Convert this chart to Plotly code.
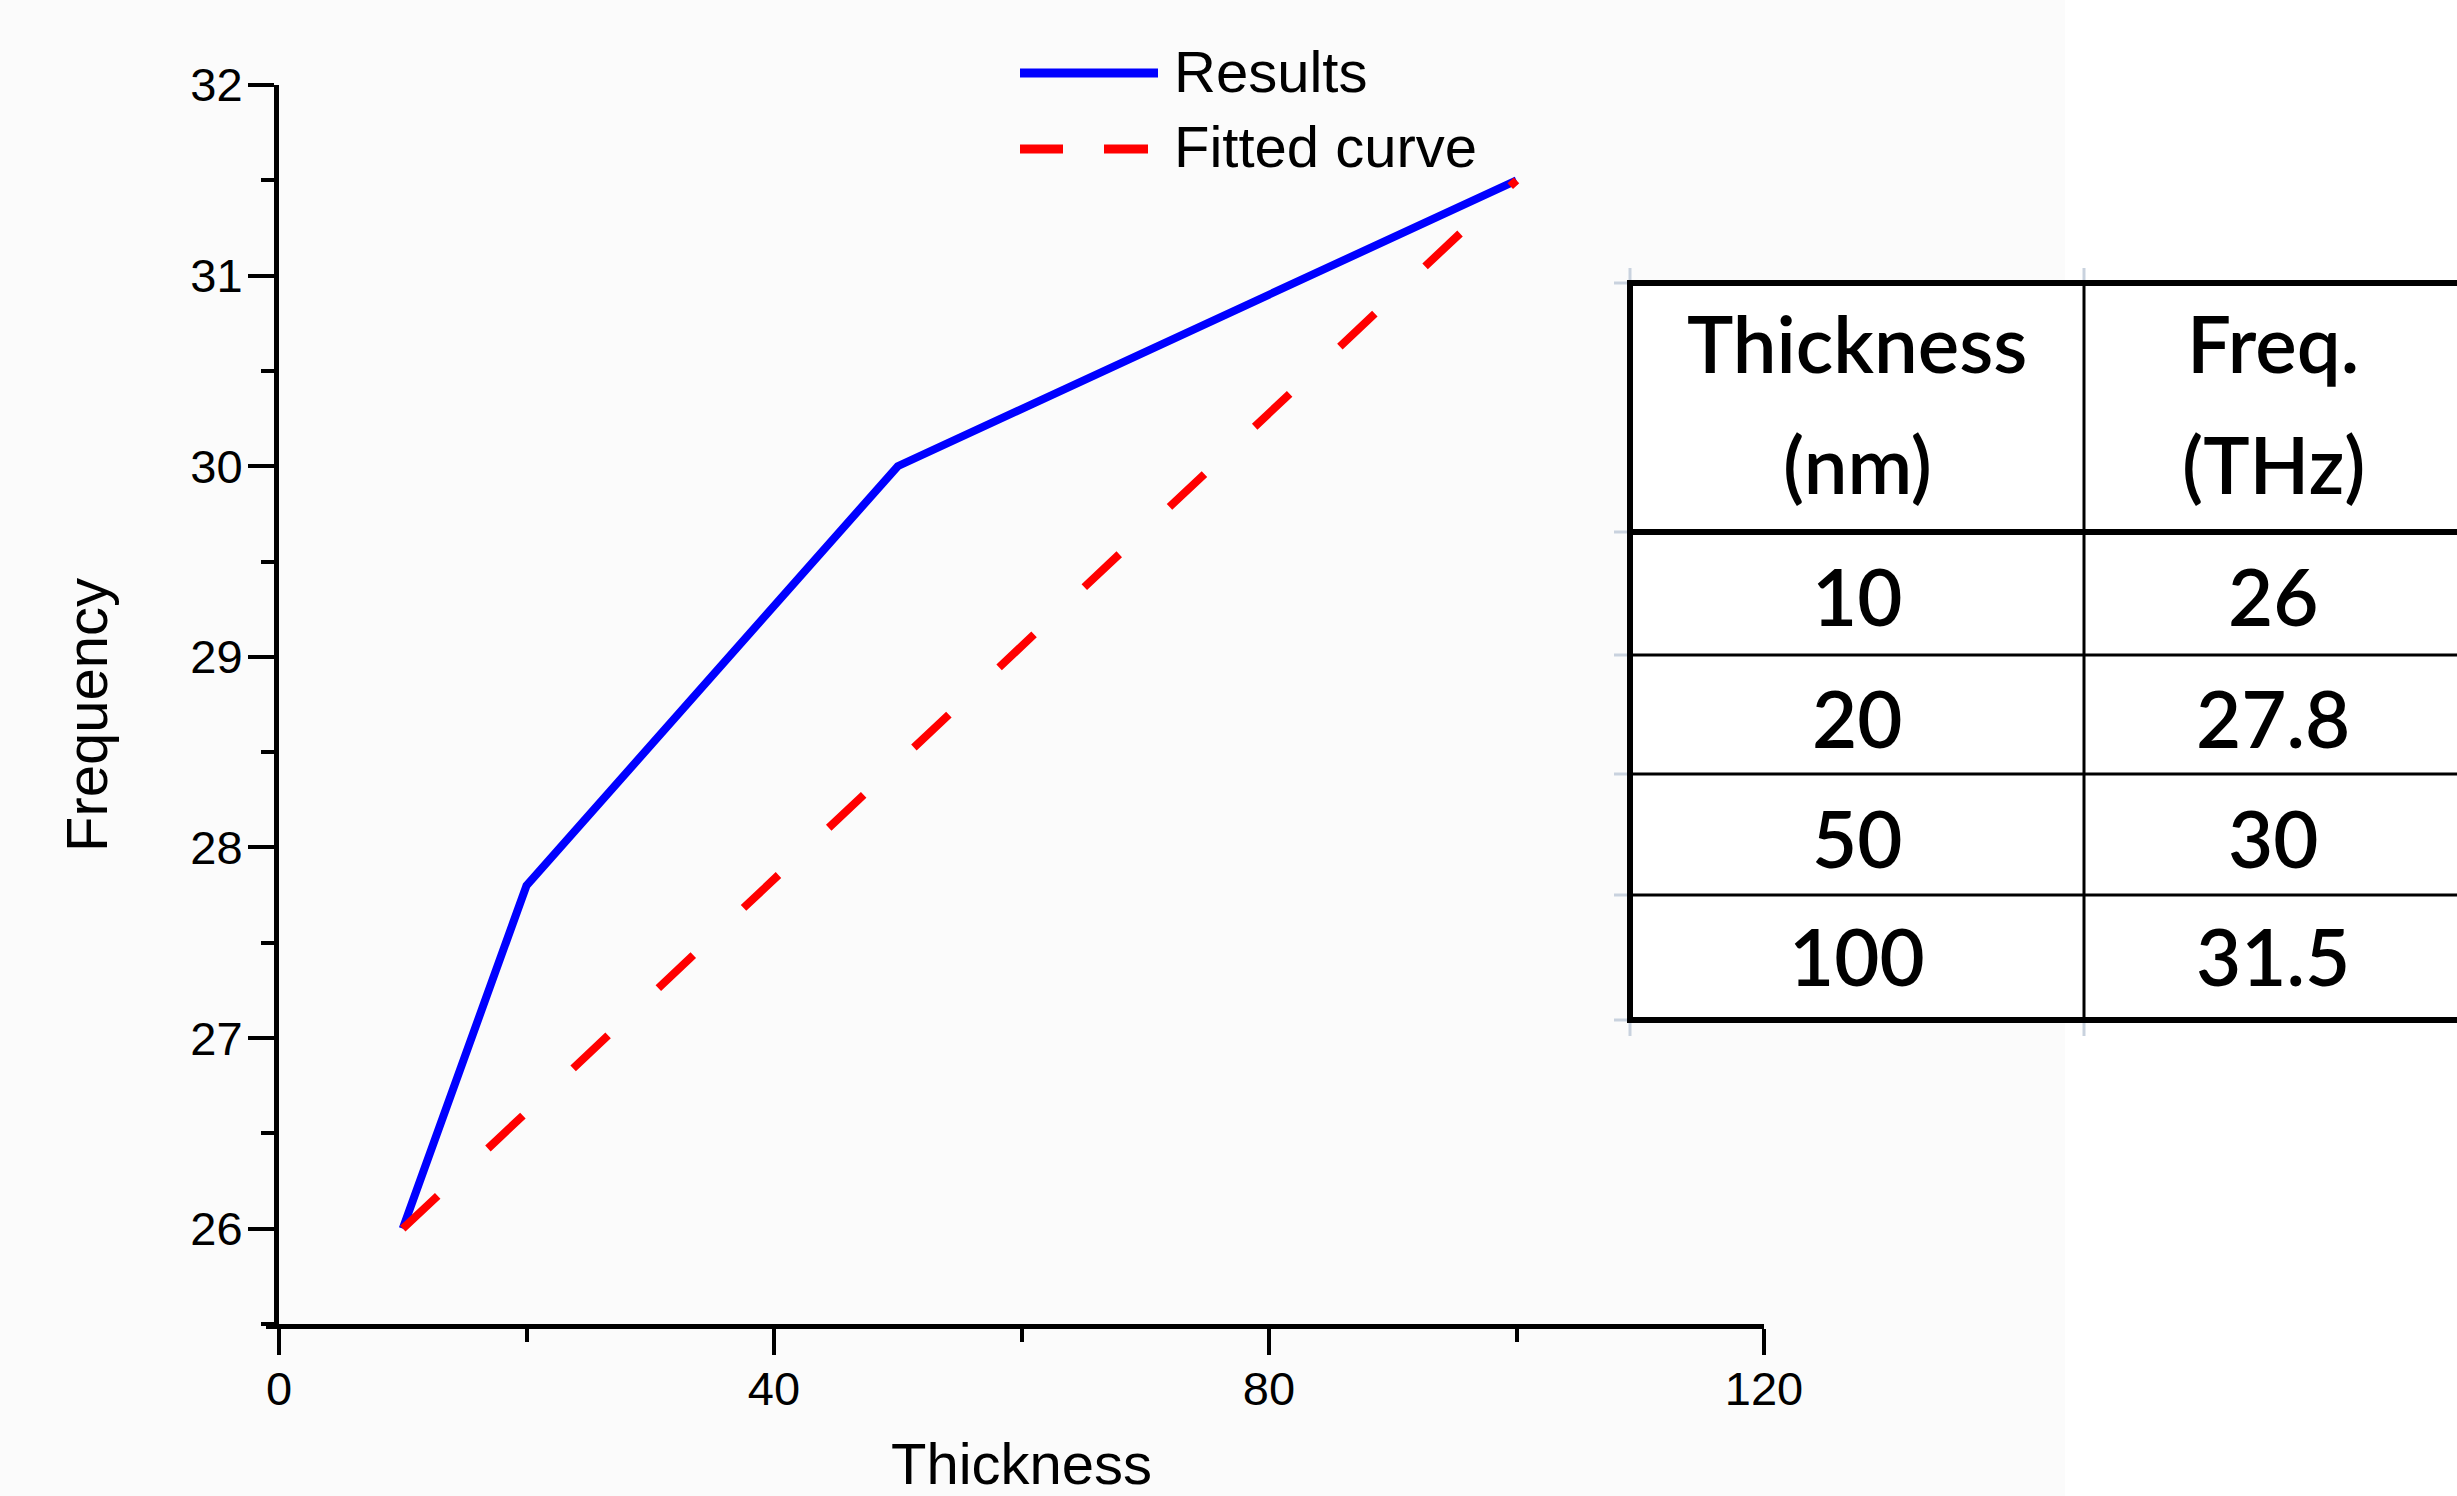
import plotly.graph_objects as go

# ---- data ----
thickness_nm = [10, 20, 50, 100]
results_thz = [26.0, 27.8, 30.0, 31.5]
fit_x = [10, 100]
fit_y = [26.0, 31.5]
x_ticks = [0, 40, 80, 120]
y_ticks = [26, 27, 28, 29, 30, 31, 32]
table_header = [("Thickness", "(nm)"), ("Freq.", "(THz)")]
legend_names = ["Results", "Fitted curve"]
x_title = "Thickness"
y_title = "Frequency"

# ---- layout geometry (pixels of the 2457x1496 canvas) ----
W, H = 2457, 1496
L, R, T, B = 279, 1764, 85, 1324


def px(x):
    return (x - L) / (R - L)


def py(y):
    return (B - y) / (B - T)


AX_FONT = "Liberation Sans, Arial, sans-serif"
TB_FONT = "Lato, Carlito, sans-serif"

fig = go.Figure()
fig.add_trace(go.Scatter(x=thickness_nm, y=results_thz, mode="lines", name=legend_names[0],
                         line=dict(color="#0000FF", width=8), showlegend=False))
fig.add_trace(go.Scatter(x=fit_x, y=fit_y, mode="lines", name=legend_names[1],
                         line=dict(color="#FF0000", width=8, dash="48px,69px"), showlegend=False))

shapes = []
# white right-hand region of the background
shapes.append(dict(type="rect", xref="paper", yref="paper", x0=px(2065), x1=px(2600), y0=py(1600), y1=py(-100),
                   fillcolor="white", line=dict(width=0), layer="below"))

# legend samples
shapes.append(dict(type="line", xref="paper", yref="paper", x0=px(1020), x1=px(1158), y0=py(73), y1=py(73),
                   line=dict(color="#0000FF", width=9)))
for a, b in [(1020, 1063), (1104, 1148)]:
    shapes.append(dict(type="line", xref="paper", yref="paper", x0=px(a), x1=px(b), y0=py(149), y1=py(149),
                       line=dict(color="#FF0000", width=9)))

# small left extension of the x-axis line
shapes.append(dict(type="line", xref="paper", yref="paper", x0=px(266), x1=px(281), y0=py(B + 2.5), y1=py(B + 2.5),
                   line=dict(color="black", width=5)))

# table
TL, TR, TT, TB = 1630, 2480, 283, 1020
COL = 2084
HDR = 532
ROWS = [655, 774, 895]
shapes.append(dict(type="rect", xref="paper", yref="paper", x0=px(TL), x1=px(TR), y0=py(TB), y1=py(TT),
                   fillcolor="white", line=dict(width=0), layer="below"))
# faint gridline stubs
for xs in [TL, COL]:
    for (ya, yb) in [(268, TT), (TB, 1036)]:
        shapes.append(dict(type="line", xref="paper", yref="paper", x0=px(xs), x1=px(xs), y0=py(ya), y1=py(yb),
                           line=dict(color="#C9D2DE", width=3)))
for ys in [TT, HDR] + ROWS + [TB]:
    shapes.append(dict(type="line", xref="paper", yref="paper", x0=px(1614), x1=px(TL), y0=py(ys), y1=py(ys),
                       line=dict(color="#C9D2DE", width=3)))
for ys in ROWS:
    shapes.append(dict(type="line", xref="paper", yref="paper", x0=px(TL), x1=px(TR), y0=py(ys), y1=py(ys),
                       line=dict(color="black", width=3)))
shapes.append(dict(type="line", xref="paper", yref="paper", x0=px(COL), x1=px(COL), y0=py(TB), y1=py(TT),
                   line=dict(color="black", width=3)))
for ys in [TT, HDR, TB]:
    shapes.append(dict(type="line", xref="paper", yref="paper", x0=px(TL - 3), x1=px(TR), y0=py(ys), y1=py(ys),
                       line=dict(color="black", width=6)))
shapes.append(dict(type="line", xref="paper", yref="paper", x0=px(TL), x1=px(TL), y0=py(TB + 3), y1=py(TT - 3),
                   line=dict(color="black", width=6)))

annotations = []
# legend labels
for name, yc in zip(legend_names, [72, 147]):
    annotations.append(dict(text=name, xref="paper", yref="paper", x=px(1172), y=py(yc), xanchor="left",
                            yanchor="middle", showarrow=False, font=dict(family=AX_FONT, size=58, color="black")))

# y-axis title (placed slightly below the domain centre, as in the reference)
annotations.append(dict(text=y_title, xref="paper", yref="paper", x=px(86), y=py(715), xanchor="center",
                        yanchor="middle", textangle=-90, showarrow=False,
                        font=dict(family=AX_FONT, size=58, color="black")))

col_x = [1857, 2273]
hdr_y = [343, 464]
TFONT = dict(family=TB_FONT, size=78, color="black", weight=600)
for (l1, l2), cx in zip(table_header, col_x):
    for txt, cy in zip([l1, l2], hdr_y):
        annotations.append(dict(text=txt, xref="paper", yref="paper", x=px(cx), y=py(cy), xanchor="center",
                                yanchor="middle", showarrow=False, font=TFONT))
row_y = [596, 718, 838, 956]
for t, f, cy in zip(thickness_nm, results_thz, row_y):
    for txt, cx in zip([f"{t:g}", f"{f:g}"], col_x):
        annotations.append(dict(text=txt, xref="paper", yref="paper", x=px(cx), y=py(cy), xanchor="center",
                                yanchor="middle", showarrow=False, font=TFONT))

axis_common = dict(showline=True, linecolor="black", linewidth=5, ticks="outside", tickwidth=4,
                   tickcolor="black", showgrid=False, zeroline=False,
                   tickfont=dict(family=AX_FONT, size=47, color="black"))

fig.update_layout(
    width=W, height=H,
    margin=dict(l=L, r=W - R, t=T, b=H - B, autoexpand=False),
    paper_bgcolor="#FBFBFB", plot_bgcolor="rgba(0,0,0,0)",
    showlegend=False,
    xaxis=dict(range=[0, 120], tickvals=x_ticks, ticklen=26, ticklabelstandoff=-6,
               minor=dict(dtick=20, tick0=0, ticks="outside", ticklen=13, tickwidth=4, tickcolor="black"),
               title=dict(text=x_title, font=dict(family=AX_FONT, size=58, color="black"), standoff=36),
               **axis_common),
    yaxis=dict(range=[25.5, 32], tickvals=y_ticks, ticklen=26, ticklabelstandoff=-4,
               minor=dict(dtick=0.5, tick0=26, ticks="outside", ticklen=13, tickwidth=4, tickcolor="black"),
               **axis_common),
    shapes=shapes,
    annotations=annotations,
)

fig.write_html("out.html", config={"displayModeBar": False},
               post_script="document.body.style.margin='0';document.body.style.overflow='hidden';")
